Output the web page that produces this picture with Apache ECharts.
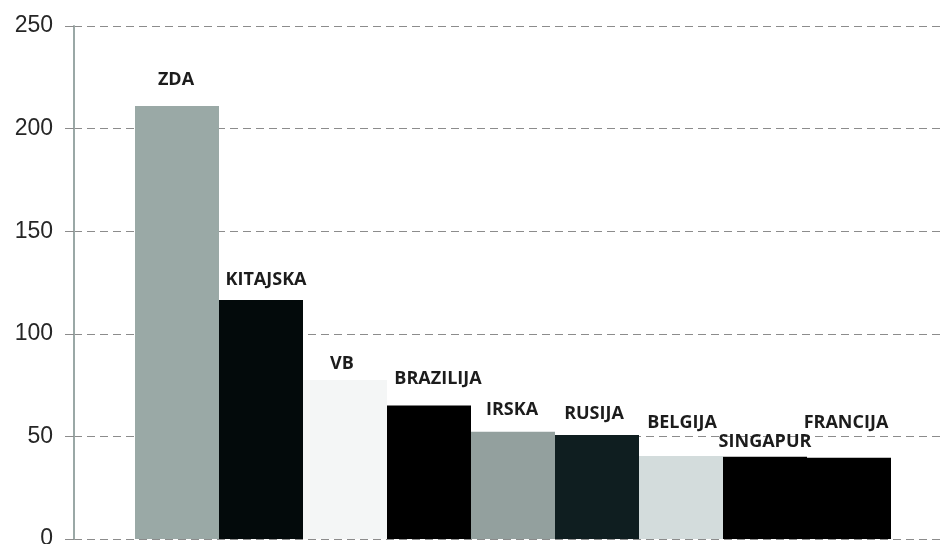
<!DOCTYPE html>
<html>
<head>
<meta charset="utf-8">
<script src="https://cdn.jsdelivr.net/npm/echarts@6/dist/echarts.min.js"></script>
<style>
  html, body { margin: 0; padding: 0; background: #ffffff; }
  #chart { width: 940px; height: 544px; }
</style>
</head>
<body>
<div id="chart"></div>
<script>
// Countries and their values
const countries = ['ZDA', 'KITAJSKA', 'VB', 'BRAZILIJA', 'IRSKA', 'RUSIJA', 'BELGIJA', 'SINGAPUR', 'FRANCIJA'];
const values = [211, 116.5, 77.5, 65, 52.3, 50.7, 40.4, 40.1, 39.6];
const yTicks = [0, 50, 100, 150, 200, 250];

// Per-bar fill colours
const barColors = ['#9aa9a6', '#030a0b', '#f4f6f6', '#000000', '#93a09e', '#0f1e20', '#d3dcdc', '#000000', '#000000'];
// Per-bar label nudges [dx, lift above bar top]
const labelShift = [[-1, 17], [5, 11], [-3, 7], [9, 18], [-1, 13], [-3, 12], [1, 24], [0, 6], [-3, 26]];

const chart = echarts.init(document.getElementById('chart'), null, { renderer: 'canvas' });

const yMin = yTicks[0];
const yMax = yTicks[yTicks.length - 1];
const yStep = yTicks[1] - yTicks[0];

chart.setOption({
  animation: false,
  backgroundColor: '#ffffff',
  grid: [
    { left: 74, right: 0, top: 26, bottom: 5, outerBoundsMode: 'none', containLabel: false },
    { left: 135, right: 49, top: 26, bottom: 5, outerBoundsMode: 'none', containLabel: false }
  ],
  xAxis: [
    { type: 'value', gridIndex: 0, show: false, min: 0, max: 1 },
    { type: 'category', gridIndex: 1, data: countries, show: false, boundaryGap: true }
  ],
  yAxis: [
    {
      type: 'value', gridIndex: 0, min: yMin, max: yMax, interval: yStep,
      axisLine: { show: true, lineStyle: { color: '#9aa8a6', width: 2 } },
      axisTick: { show: true, length: 9, lineStyle: { color: '#8c8c8c', width: 1 } },
      axisLabel: { margin: 21, color: '#262626', fontFamily: 'Liberation Sans', fontSize: 23 },
      splitLine: { show: true, lineStyle: { color: '#8c8c8c', width: 1, type: [8, 5] } }
    },
    { type: 'value', gridIndex: 1, min: yMin, max: yMax, interval: yStep, show: false, splitLine: { show: false } }
  ],
  series: [{
    type: 'bar',
    xAxisIndex: 1,
    yAxisIndex: 1,
    barCategoryGap: 0,
    barGap: 0,
    data: values.map((v, i) => ({
      value: v,
      itemStyle: { color: barColors[i] },
      label: { distance: labelShift[i][1], offset: [labelShift[i][0], 0] }
    })),
    label: {
      show: true,
      position: 'top',
      formatter: p => countries[p.dataIndex],
      color: '#1c1c1c',
      fontFamily: 'Open Sans',
      fontWeight: 'bold',
      fontSize: 18
    }
  }]
});
</script>
</body>
</html>
